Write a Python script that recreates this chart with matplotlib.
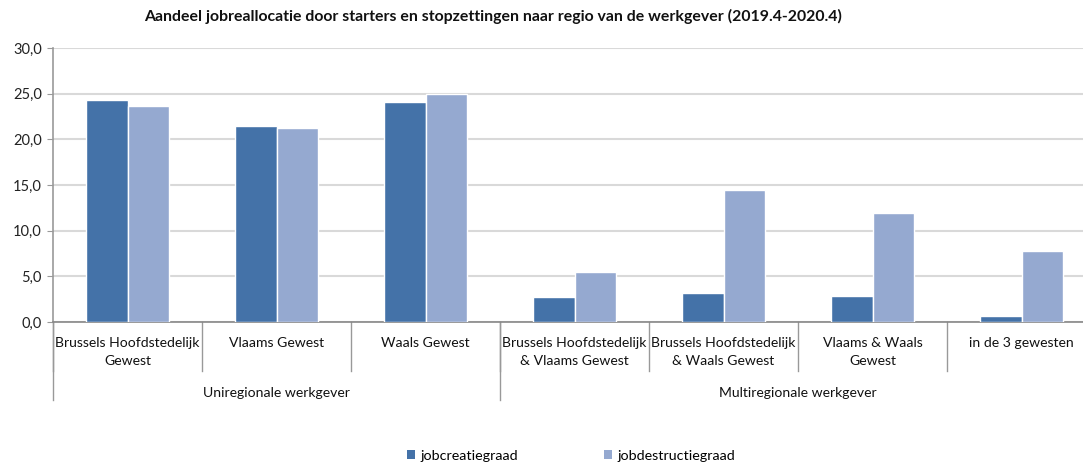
import matplotlib
matplotlib.use("Agg")
import matplotlib.pyplot as plt
import matplotlib.transforms as mtransforms
from matplotlib.patches import Patch
import numpy as np

plt.rcParams['font.family'] = ['Lato', 'DejaVu Sans']

title = "Aandeel jobreallocatie door starters en stopzettingen naar regio van de werkgever (2019.4-2020.4)"
categories = ["Brussels Hoofdstedelijk\nGewest", "Vlaams Gewest", "Waals Gewest",
              "Brussels Hoofdstedelijk\n& Vlaams Gewest", "Brussels Hoofdstedelijk\n& Waals Gewest",
              "Vlaams & Waals\nGewest", "in de 3 gewesten"]
groups = ["Uniregionale werkgever", "Multiregionale werkgever"]
group_sizes = [3, 4]
series_names = ["jobcreatiegraad", "jobdestructiegraad"]
jobcreatie = [24.3, 21.5, 24.1, 2.7, 3.2, 2.8, 0.7]
jobdestructie = [23.6, 21.2, 25.0, 5.5, 14.4, 11.9, 7.8]
yticks = [0, 5, 10, 15, 20, 25, 30]

c1 = "#4472a8"
c2 = "#95a9d0"

W, H = 1083, 466
fig = plt.figure(figsize=(W / 100, H / 100), dpi=100)
ax = fig.add_axes([53 / W, 1 - 322 / H, 1043 / W, 274 / H])

x = np.arange(len(categories))
bw = 0.28
for vals, col, off in [(jobcreatie, c1, -bw / 2), (jobdestructie, c2, bw / 2)]:
    ax.bar(x + off, vals, width=bw, color=col, edgecolor="white", linewidth=1.0, zorder=3)

ax.set_xlim(-0.5, len(categories) - 0.5)
ax.set_ylim(0, 30)
ax.set_yticks(yticks)
ax.set_yticklabels([f"{v:.1f}".replace(".", ",") for v in yticks], fontsize=10.5, color="#222222")
ax.yaxis.grid(True, color="#d9d9d9", linewidth=1.5, zorder=0)
ax.set_axisbelow(True)
ax.tick_params(axis="y", length=4, color="#999999", pad=4)
for s in ["top", "right"]:
    ax.spines[s].set_visible(False)
ax.spines["left"].set_color("#999999")
ax.spines["bottom"].set_color("#888888")
ax.spines["left"].set_linewidth(1.2)
ax.spines["bottom"].set_linewidth(1.2)

ax.set_xticks([])
trans = mtransforms.blended_transform_factory(ax.transData, ax.transAxes)
# category separators
for b in np.arange(-0.5, len(categories) + 0.5, 1.0):
    ax.plot([b, b], [0, -0.179], color="#999999", lw=1.0, transform=trans, clip_on=False)
for i, lab in enumerate(categories):
    ax.text(i, -0.056, lab, transform=trans, ha="center", va="top", fontsize=10.1,
            color="#111111", linespacing=1.55)
# group separators & labels
start = -0.5
for g, n in zip(groups, group_sizes):
    ax.plot([start, start], [0, -0.285], color="#999999", lw=1.0, transform=trans, clip_on=False)
    ax.text(start + n / 2, -0.26, g, transform=trans, ha="center", va="center",
            fontsize=10.1, color="#111111")
    start += n
ax.plot([start, start], [0, -0.285], color="#999999", lw=1.0, transform=trans, clip_on=False)

fig.text(493 / W, 1 - 16 / H, title, ha="center", va="center", fontsize=11.4,
         fontweight="bold", color="#111111")

handles = [Patch(facecolor=c1, edgecolor="none"), Patch(facecolor=c2, edgecolor="none")]
fig.legend(handles, series_names, loc="center", bbox_to_anchor=(571 / W, 1 - 456 / H), ncol=2,
           frameon=False, fontsize=10.3, handlelength=0.6, handleheight=0.6,
           handletextpad=0.35, columnspacing=6.0)

fig.savefig("out.png", dpi=100)
